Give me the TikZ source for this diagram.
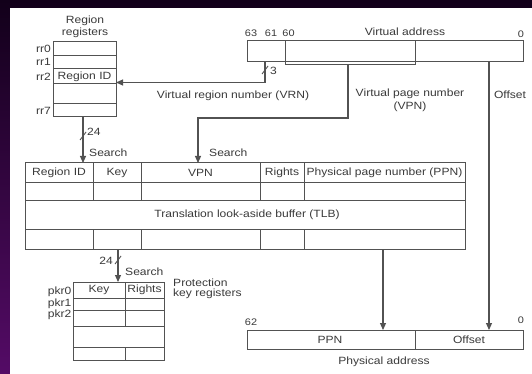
\documentclass[tikz,border=0pt]{standalone}
\usepackage{fontspec}
\setmainfont{Liberation Sans}[FakeStretch=1.15]
\usetikzlibrary{arrows.meta}
\definecolor{ln}{HTML}{525252}
\definecolor{txt}{HTML}{3A3A3A}
\definecolor{bgtop}{HTML}{12001A}
\definecolor{bgbot}{HTML}{540B66}
\tikzset{
  lab/.style={font=\fontsize{10.5}{12}\selectfont, text=txt, inner sep=0pt},
  bitno/.style={font=\fontsize{9.5}{11}\selectfont, text=txt, inner sep=0pt},
  box/.style={draw=ln, line width=1pt},
  conn/.style={draw=ln, line width=1.1pt},
  arr/.style={conn, -{Triangle[length=7pt,width=6pt]}},
  tick/.style={draw=ln, line width=0.9pt},
}
\begin{document}
\begin{tikzpicture}[x=1pt,y=-1pt]
\useasboundingbox (0,0) rectangle (532,374);
% frame and page
\shade[top color=bgtop, bottom color=bgbot] (0,0) rectangle (532,374);
\fill[white] (10,8) rectangle (532,374);

% ---------- region registers ----------
\coordinate (rrNW) at (53,42);
\coordinate (rrSE) at (116,116.5);
\draw[box] (rrNW) rectangle (rrSE);
\foreach \y in {56,68.5,84,103.5} \draw[box] (53,\y) -- (116,\y);
\node[lab] (rrtitle1) at (85,21) {Region};
\node[lab] (rrtitle2) at (85,33) {registers};
\node[lab, anchor=east] (rr0) at (51,49) {rr0};
\node[lab, anchor=east] (rr1) at (51,61.5) {rr1};
\node[lab, anchor=east] (rr2) at (51,76.5) {rr2};
\node[lab, anchor=east] (rr7) at (51,110.5) {rr7};
\node[lab] (rid) at (84.5,76.5) {Region ID};

% ---------- virtual address ----------
\coordinate (vaNW) at (247,41);
\coordinate (vaSE) at (523,62);
\draw[box] (vaNW) rectangle (vaSE);
\draw[box] (285,41) -- (285,64.5) -- (415,64.5) -- (415,41);
\node[bitno] (b63) at (251,33) {63};
\node[bitno] (b61) at (271,33) {61};
\node[bitno] (b60) at (288.5,33) {60};
\node[lab] (vatitle) at (405,32) {Virtual address};
\node[bitno] (b0) at (521,34) {0};

% ---------- TLB ----------
\coordinate (tlbNW) at (25,163);
\coordinate (tlbSE) at (465,249);
\draw[box] (tlbNW) rectangle (tlbSE);
\foreach \y in {182,200,229} \draw[box] (25,\y) -- (465,\y);
\foreach \x in {93,141,260,304} {
  \draw[box] (\x,163) -- (\x,200);
  \draw[box] (\x,229) -- (\x,249);
}
\node[lab] (hrid) at (59,172.5) {Region ID};
\node[lab] (hkey) at (117,172.5) {Key};
\node[lab] (hvpn) at (200.5,172.5) {VPN};
\node[lab] (hrights) at (282,172.5) {Rights};
\node[lab] (hppn) at (384.5,172.5) {Physical page number (PPN)};
\node[lab] (tlbname) at (247,214.5) {Translation look-aside buffer (TLB)};

% ---------- protection key registers ----------
\coordinate (pkNW) at (73,282);
\coordinate (pkSE) at (164,360);
\draw[box] (pkNW) rectangle (pkSE);
\foreach \y in {298,310,326,347} \draw[box] (73,\y) -- (164,\y);
\draw[box] (125,282) -- (125,326);
\draw[box] (125,347) -- (125,360);
\node[lab] (pkey) at (99,290) {Key};
\node[lab] (prights) at (144.5,290) {Rights};
\node[lab, anchor=east] (pkr0) at (71.5,292) {pkr0};
\node[lab, anchor=east] (pkr1) at (71.5,303.5) {pkr1};
\node[lab, anchor=east] (pkr2) at (71.5,315) {pkr2};
\node[lab, anchor=west] (pktitle1) at (173,282.5) {Protection};
\node[lab, anchor=west] (pktitle2) at (173,294) {key registers};

% ---------- physical address ----------
\coordinate (paNW) at (247,330);
\coordinate (paSE) at (523,349);
\draw[box] (paNW) rectangle (paSE);
\draw[box] (415,330) -- (415,349);
\node[lab] (pppn) at (330,339.5) {PPN};
\node[lab] (poff) at (469,339.5) {Offset};
\node[bitno] (p62) at (251,322) {62};
\node[bitno] (p0) at (521,320) {0};
\node[lab] (patitle) at (384,362) {Physical address};

% ---------- connectors ----------
% VRN to region register rr2
\coordinate (vrnsrc) at (265,62);
\coordinate (rr2in) at (116,82.5);
\draw[arr] (vrnsrc) |- (rr2in);
\draw[tick] (262,74) -- (268,66);
\node[lab, anchor=west] (w3) at (270,71) {3};
\node[lab] (vrnlabel) at (233,96) {Virtual region number (VRN)};

% VPN to TLB search
\coordinate (vpnsrc) at (348,64.5);
\coordinate (vpnbend) at (348,118);
\coordinate (tlbvpn) at (198,163);
\draw[arr] (vpnsrc) -- (vpnbend) -| (tlbvpn);
\node[lab] (vpnl1) at (410,94) {Virtual page number};
\node[lab] (vpnl2) at (410,107) {(VPN)};
\node[lab, anchor=west] (search2) at (209,153) {Search};

% offset straight through
\coordinate (offsrc) at (489,62);
\coordinate (offdst) at (489,330);
\draw[arr] (offsrc) -- (offdst);
\node[lab] (offl) at (510,95) {Offset};

% region ID to TLB search
\coordinate (rrout) at (83,116.5);
\coordinate (tlbrid) at (83,163);
\draw[arr] (rrout) -- (tlbrid);
\draw[tick] (80,140) -- (86,132);
\node[lab, anchor=west] (w24a) at (87,132) {24};
\node[lab, anchor=west] (search1) at (89,153) {Search};

% PPN out of TLB
\coordinate (ppnsrc) at (383,249);
\coordinate (ppndst) at (383,330);
\draw[arr] (ppnsrc) -- (ppndst);

% key to protection key registers
\coordinate (keysrc) at (118,249);
\coordinate (keydst) at (118,282);
\draw[arr] (keysrc) -- (keydst);
\draw[tick] (115,264) -- (121,256);
\node[lab, anchor=east] (w24b) at (113,261) {24};
\node[lab, anchor=west] (search3) at (125,272) {Search};
\end{tikzpicture}
\end{document}
